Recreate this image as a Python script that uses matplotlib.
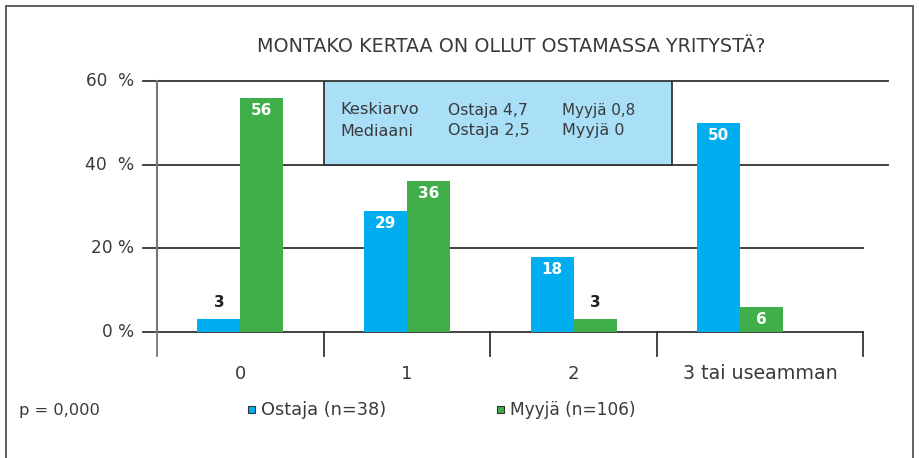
import matplotlib
matplotlib.use("Agg")
import matplotlib.pyplot as plt
from matplotlib.patches import Rectangle

categories = ["0", "1", "2", "3 tai useamman"]
ostaja = [3, 29, 18, 50]
myyja = [56, 36, 3, 6]
yticks = [0, 20, 40, 60]
ytick_labels = ["0 %", "20 %", "40  %", "60  %"]
title = "MONTAKO KERTAA ON OLLUT OSTAMASSA YRITYSTÄ?"
legend_labels = ["Ostaja (n=38)", "Myyjä (n=106)"]
p_text = "p = 0,000"
box_rows = [["Keskiarvo", "Ostaja 4,7", "Myyjä 0,8"],
            ["Mediaani", "Ostaja 2,5", "Myyjä 0"]]

plt.rcParams['font.family'] = ["DejaVu Sans"]

BLUE = "#00aeef"
GREEN = "#40ae49"
TXT = "#3a3a3a"
LINE = "#333333"

W, H = 919, 458
fig = plt.figure(figsize=(W / 100, H / 100), dpi=100)
renderer = fig.canvas.get_renderer()


def fx(px):
    return px / W


def fy(py):
    return 1 - py / H


def fit(t, width_px):
    w = t.get_window_extent(renderer=renderer).width
    t.set_fontsize(t.get_fontsize() * width_px / w)
    return t


# figure frame
fig.patches.append(Rectangle((fx(6), fy(470)), fx(907), (470 - 6) / H, transform=fig.transFigure,
                             fill=False, edgecolor="#555555", lw=1.3, clip_on=False))

ax = fig.add_axes([fx(157), fy(332), fx(863 - 157), (332 - 81) / H])
ax.set_xlim(-0.5, 3.737)
ax.set_ylim(0, 60)

bw = 0.258
x = list(range(len(categories)))
ax.bar([i - bw / 2 for i in x], ostaja, width=bw, color=BLUE, zorder=3)
ax.bar([i + bw / 2 for i in x], myyja, width=bw, color=GREEN, zorder=3)

for i in x:
    for val, off in ((ostaja[i], -bw / 2), (myyja[i], bw / 2)):
        if val >= 5:
            ax.text(i + off, val - 1.2, str(val), ha="center", va="top", color="white",
                    fontsize=11, fontweight="bold", zorder=4)
        else:
            ax.text(i + off, val + 2.2, str(val), ha="center", va="bottom", color="#222222",
                    fontsize=11, fontweight="bold", zorder=4)

# gridlines
for yv in yticks:
    ax.axhline(yv, xmin=-14 / 706, xmax=1 if yv < 40 else (888 - 157) / 706,
               color=LINE, lw=1.3, zorder=2, clip_on=False)

for s in ["top", "right", "bottom"]:
    ax.spines[s].set_visible(False)
ax.spines["left"].set_color("#777777")
ax.spines["left"].set_linewidth(1.5)
ax.spines["left"].set_bounds(0, 60)

ax.set_yticks(yticks)
ax.set_yticklabels([])
ax.tick_params(axis="y", length=0)
ylab_px = [(102, 134), (91, 134), (85, 134), (86, 134)]
for yv, lab, (x0, x1) in zip(yticks, ytick_labels, ylab_px):
    t = ax.text(-(157 - 134) / 706, yv, lab, transform=ax.get_yaxis_transform(), ha="right",
                va="center", fontsize=13, color=TXT)
    fit(t, x1 - x0)

# category separators
seps = [-0.5, 0.5, 1.5, 2.5, 3.737]
for s in seps:
    ax.plot([s, s], [0, -5.7], color=LINE if s > -0.5 else "#777777", lw=1.3, clip_on=False, zorder=2)
ax.set_xticks([])
centers = [0, 1, 2, (2.5 + 3.737) / 2]
for c, lab in zip(centers, categories):
    t = ax.text(c, -10, lab, ha="center", va="center", fontsize=13, color=TXT)
    if len(lab) > 2:
        fit(t, 155)

# info box
ax.add_patch(Rectangle((0.5, 40), (671 - 322) / 166.7, 20, facecolor="#aadff8",
                       edgecolor="#333333", lw=1.3, zorder=2.5))
col_px = [340, 448, 562]
col_w = [79, 80, 74]
row_py = [110, 131]
for r, row in enumerate(box_rows):
    for c, t in enumerate(row):
        tt = fig.text(fx(col_px[c]), fy(row_py[r]), t, ha="left", va="center", fontsize=11.5, color=TXT)
        if r == 0:
            fit(tt, col_w[c])

tt = fig.text(fx(511), fy(46), title, ha="center", va="center", fontsize=14, color=TXT)
fit(tt, 510)

tt = fig.text(fx(19), fy(410), p_text, ha="left", va="center", fontsize=12, color=TXT)
fit(tt, 80)
for px, col, lab, wpx in ((251, BLUE, legend_labels[0], 124), (500, GREEN, legend_labels[1], 126)):
    fig.patches.append(Rectangle((fx(px - 3), fy(413)), fx(7), 7 / H, transform=fig.transFigure,
                                 facecolor=col, edgecolor="#333333", lw=0.8))
    tt = fig.text(fx(px + 10), fy(410), lab, ha="left", va="center", fontsize=12, color=TXT)
    fit(tt, wpx)

fig.savefig("out.png", dpi=100)
